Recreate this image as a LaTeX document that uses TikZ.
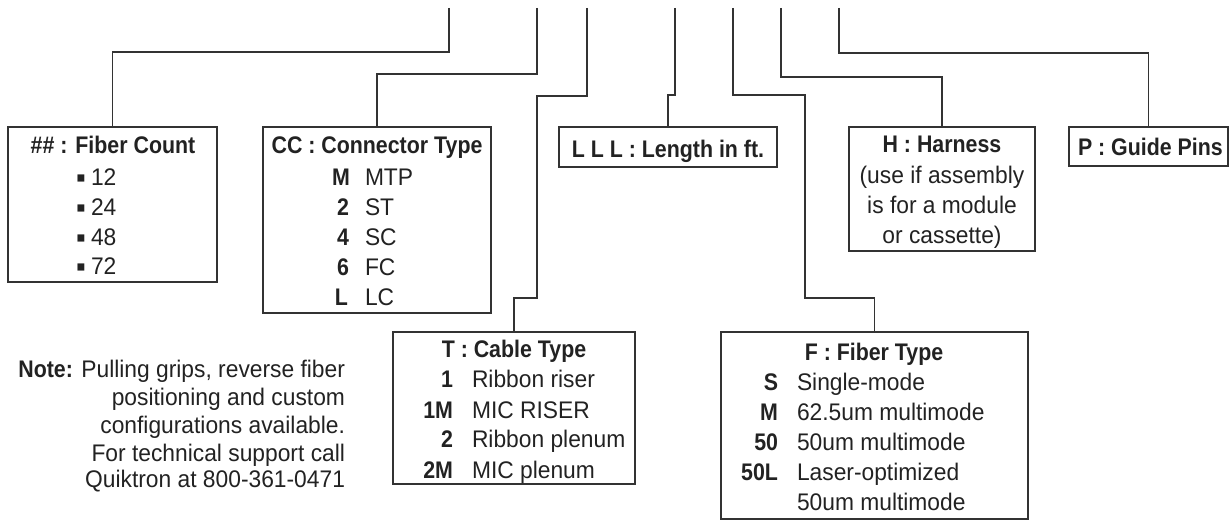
\documentclass[tikz,border=0pt]{standalone}
\usepackage{fontspec}
\setmainfont{Liberation Sans}[FakeStretch=0.95,BoldFeatures={FakeStretch=0.89}]
\definecolor{ink}{HTML}{222222}
\definecolor{linecol}{HTML}{333333}
\begin{document}
\begin{tikzpicture}[x=1pt,y=-1pt,
  every node/.style={font=\fontsize{24}{30}\selectfont, text=ink, inner sep=0pt, outer sep=0pt},
  box/.style={draw=linecol, line width=1.3pt, anchor=north west, inner sep=0pt},
  conn/.style={draw=linecol, line width=1.3pt},
  bul/.style={anchor=base west, font=\fontsize{29}{30}\selectfont},
  ctr/.style={anchor=base}, lft/.style={anchor=base west}, rgt/.style={anchor=base east}]
\useasboundingbox (0,0) rectangle (1230,524);
% partial part-number fragments at the very top
\node[ctr] (fragH) at (780,-4) {(H)};
\node[ctr] (fragP) at (839,-4) {(P)};
% boxes
\node[box, minimum width=209pt, minimum height=155pt] (fib) at (8,127) {};
\node[box, minimum width=228pt, minimum height=186pt] (con) at (263,127) {};
\node[box, minimum width=218pt, minimum height=40pt] (len) at (559,127) {};
\node[box, minimum width=186pt, minimum height=124pt] (har) at (849,127) {};
\node[box, minimum width=159pt, minimum height=39pt] (pin) at (1069,127) {};
\node[box, minimum width=242pt, minimum height=152pt] (cab) at (393,332) {};
\node[box, minimum width=307pt, minimum height=187pt] (ftp) at (721,332) {};
% top free ends
\coordinate (t1) at (449,8);
\coordinate (t2) at (537,8);
\coordinate (t3) at (587,8);
\coordinate (t4) at (675,8);
\coordinate (t5) at (733,8);
\coordinate (t6) at (781,8);
\coordinate (t7) at (839,8);
% connectors
\draw[conn] (t1) -- (449,52) -| (fib.north);
\draw[conn] (t2) -- (537,74) -| (con.north);
\draw[conn] (t3) -- (587,96) -- (537,96) -- (537,298) -| (cab.north);
\draw[conn] (t4) -- (675,95) -| (len.north);
\draw[conn] (t5) -- (733,95) -- (805,95) -- (805,298) -| (ftp.north);
\draw[conn] (t6) -- (781,77) -| (har.north);
\draw[conn] (t7) -- (839,53) -| (pin.north);
% Fiber count
\node[ctr] (fibT) at (113,153) {\textbf{\#\# : Fiber Count}};
\node[bul] (fb1) at (76,187) {▪};
\node[lft] (fn1) at (91,185) {12};
\node[bul] (fb2) at (76,217) {▪};
\node[lft] (fn2) at (91,215) {24};
\node[bul] (fb3) at (76,247) {▪};
\node[lft] (fn3) at (91,245) {48};
\node[bul] (fb4) at (76,276) {▪};
\node[lft] (fn4) at (91,274) {72};
% Connector type
\node[ctr] (conT) at (377,153) {\textbf{CC : Connector Type}};
\node[rgt] (cc1) at (350,185) {\textbf{M}};
\node[lft] (cd1) at (365,185) {MTP};
\node[rgt] (cc2) at (349,215) {\textbf{2}};
\node[lft] (cd2) at (365,215) {ST};
\node[rgt] (cc3) at (349,245) {\textbf{4}};
\node[lft] (cd3) at (365,245) {SC};
\node[rgt] (cc4) at (349,275) {\textbf{6}};
\node[lft] (cd4) at (365,275) {FC};
\node[rgt] (cc5) at (348,305) {\textbf{L}};
\node[lft] (cd5) at (365,305) {LC};
% Length
\node[ctr] (lenT) at (668,157) {\textbf{L L L : Length in ft.}};
% Harness
\node[ctr] (harT) at (942,152) {\textbf{H : Harness}};
\node[ctr] (har1) at (942,183) {(use if assembly};
\node[ctr] (har2) at (942,213) {is for a module};
\node[ctr] (har3) at (942,243) {or cassette)};
% Guide pins
\node[lft] (pinT) at (1078,155) {\textbf{P : Guide Pins}};
% Cable type
\node[ctr] (cabT) at (514,357) {\textbf{T : Cable Type}};
\node[rgt] (tc1) at (453,387) {\textbf{1}};
\node[lft] (td1) at (472,387) {Ribbon riser};
\node[rgt] (tc2) at (453,418) {\textbf{1M}};
\node[lft] (td2) at (472,418) {MIC RISER};
\node[rgt] (tc3) at (453,447) {\textbf{2}};
\node[lft] (td3) at (472,447) {Ribbon plenum};
\node[rgt] (tc4) at (453,478) {\textbf{2M}};
\node[lft] (td4) at (472,478) {MIC plenum};
% Fiber type
\node[ctr] (ftpT) at (874,360) {\textbf{F : Fiber Type}};
\node[rgt] (fc1) at (778,390) {\textbf{S}};
\node[lft] (fd1) at (797,390) {Single-mode};
\node[rgt] (fc2) at (778,420) {\textbf{M}};
\node[lft] (fd2) at (797,420) {62.5um multimode};
\node[rgt] (fc3) at (778,450) {\textbf{50}};
\node[lft] (fd3) at (797,450) {50um multimode};
\node[rgt] (fc4) at (778,480) {\textbf{50L}};
\node[lft] (fd4) at (797,480) {Laser-optimized};
\node[lft] (fd5) at (797,510) {50um multimode};
% Note
\node[rgt] (n1) at (345,377) {\textbf{Note:} Pulling grips, reverse fiber};
\node[rgt] (n2) at (345,405) {positioning and custom};
\node[rgt] (n3) at (345,433) {configurations available.};
\node[rgt] (n4) at (345,461) {For technical support call};
\node[rgt] (n5) at (345,487) {Quiktron at 800-361-0471};
\end{tikzpicture}
\end{document}
